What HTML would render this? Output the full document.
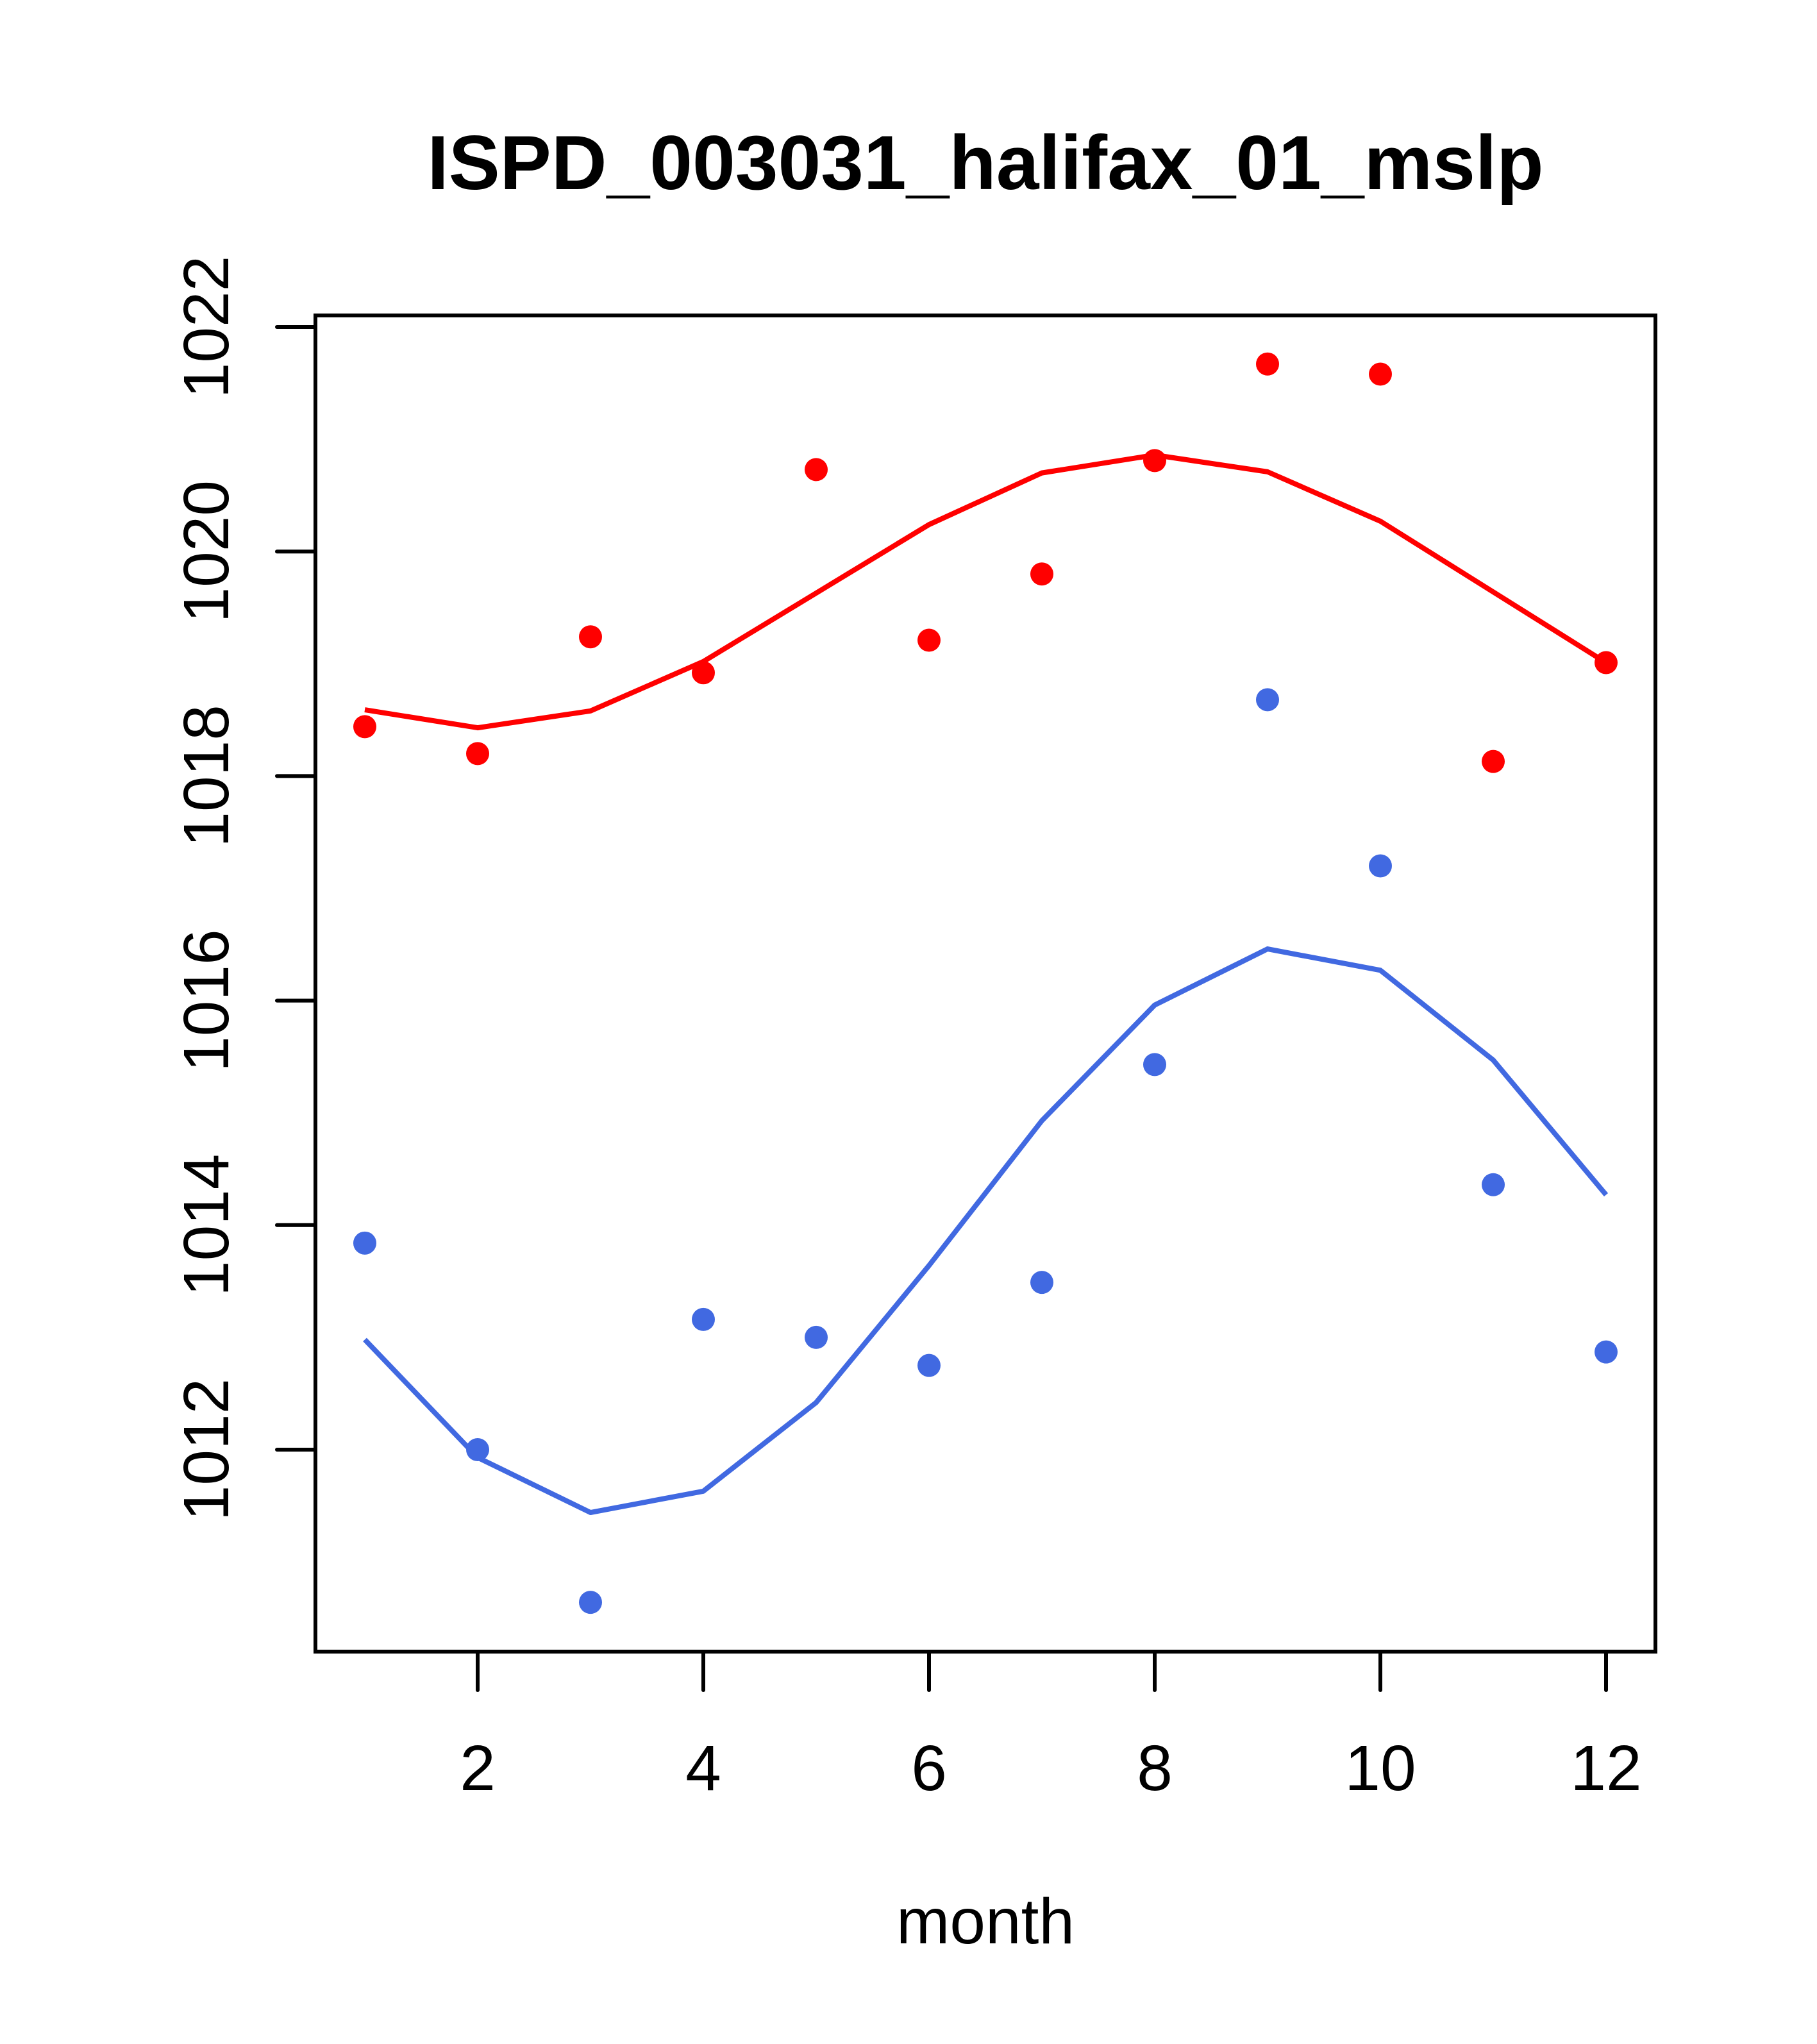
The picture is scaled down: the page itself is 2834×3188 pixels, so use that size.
<!DOCTYPE html>
<html><head><meta charset="utf-8"><style>
html,body{margin:0;padding:0;background:#fff;}
svg{display:block;font-family:"Liberation Sans",sans-serif;}
</style></head><body>
<svg id="chart" width="2834" height="3188" viewBox="0 0 2834 3188">
<text x="1537" y="295" text-anchor="middle" font-size="120" font-weight="bold">ISPD_003031_halifax_01_mslp</text>
<rect x="492" y="492" width="2090" height="2084" fill="none" stroke="#000" stroke-width="6"/>
<g id="xaxis"></g>
<g id="yaxis"></g>
<text x="1537" y="3031" text-anchor="middle" font-size="100">month</text>
<g id="series"></g>
</svg>
<script>
const months = [1,2,3,4,5,6,7,8,9,10,11,12];
const redPoints = [1018.44,1018.20,1019.24,1018.92,1020.73,1019.21,1019.80,1020.81,1021.67,1021.58,1018.13,1019.01];
const redLine = [1018.59,1018.43,1018.58,1019.02,1019.63,1020.24,1020.70,1020.86,1020.71,1020.27,1019.64,1019.01];
const bluePoints = [1013.84,1012.00,1010.64,1013.16,1013.00,1012.75,1013.49,1015.43,1018.68,1017.20,1014.36,1012.87];
const blueLine = [1012.98,1011.93,1011.44,1011.63,1012.42,1013.64,1014.93,1015.96,1016.46,1016.27,1015.47,1014.27];
const xTicks = [2,4,6,8,10,12];
const yTicks = [1012,1014,1016,1018,1020,1022];

const NS = "http://www.w3.org/2000/svg";
function xs(m){ return 569 + (m-1)*176; }
function ys(v){ return 510 + (1022-v)*175.1; }
function mk(tag, attrs, parent){
  const e = document.createElementNS(NS, tag);
  for (const k in attrs) e.setAttribute(k, attrs[k]);
  parent.appendChild(e);
  return e;
}
const xa = document.getElementById('xaxis');
const ya = document.getElementById('yaxis');
const sr = document.getElementById('series');

xTicks.forEach(t => {
  const l = mk('line', {x1:xs(t), x2:xs(t), y1:2576, y2:2636, stroke:'#000', 'stroke-width':6, 'stroke-linecap':'round'}, xa);
  
  
  const tx = mk('text', {x:xs(t), y:2792, 'text-anchor':'middle', 'font-size':100}, xa);
  tx.textContent = t;
  
  
});
yTicks.forEach(t => {
  const y = ys(t);
  const l = mk('line', {x1:432, x2:492, y1:y, y2:y, stroke:'#000', 'stroke-width':6, 'stroke-linecap':'round'}, ya);
  
  
  const tx = mk('text', {x:0, y:0, 'text-anchor':'middle', 'font-size':100, transform:'translate(356,'+y+') rotate(-90)'}, ya);
  tx.textContent = t;
  
  
});

function drawLine(vals, color, name){
  const pts = vals.map((v,i) => xs(months[i]) + ',' + ys(v)).join(' ');
  const p = mk('polyline', {points:pts, fill:'none', stroke:color, 'stroke-width':8, 'stroke-linejoin':'round'}, sr);
  
  
}
function drawPoints(vals, color, name){
  vals.forEach((v,i) => {
    const c = mk('circle', {cx:xs(months[i]), cy:ys(v), r:18, fill:color}, sr);
    
    
  });
}
drawLine(redLine, '#ff0000', 'red-smooth-line');
drawPoints(redPoints, '#ff0000', 'red-point');
drawLine(blueLine, '#4169e1', 'blue-smooth-line');
drawPoints(bluePoints, '#4169e1', 'blue-point');
</script>
</body></html>
